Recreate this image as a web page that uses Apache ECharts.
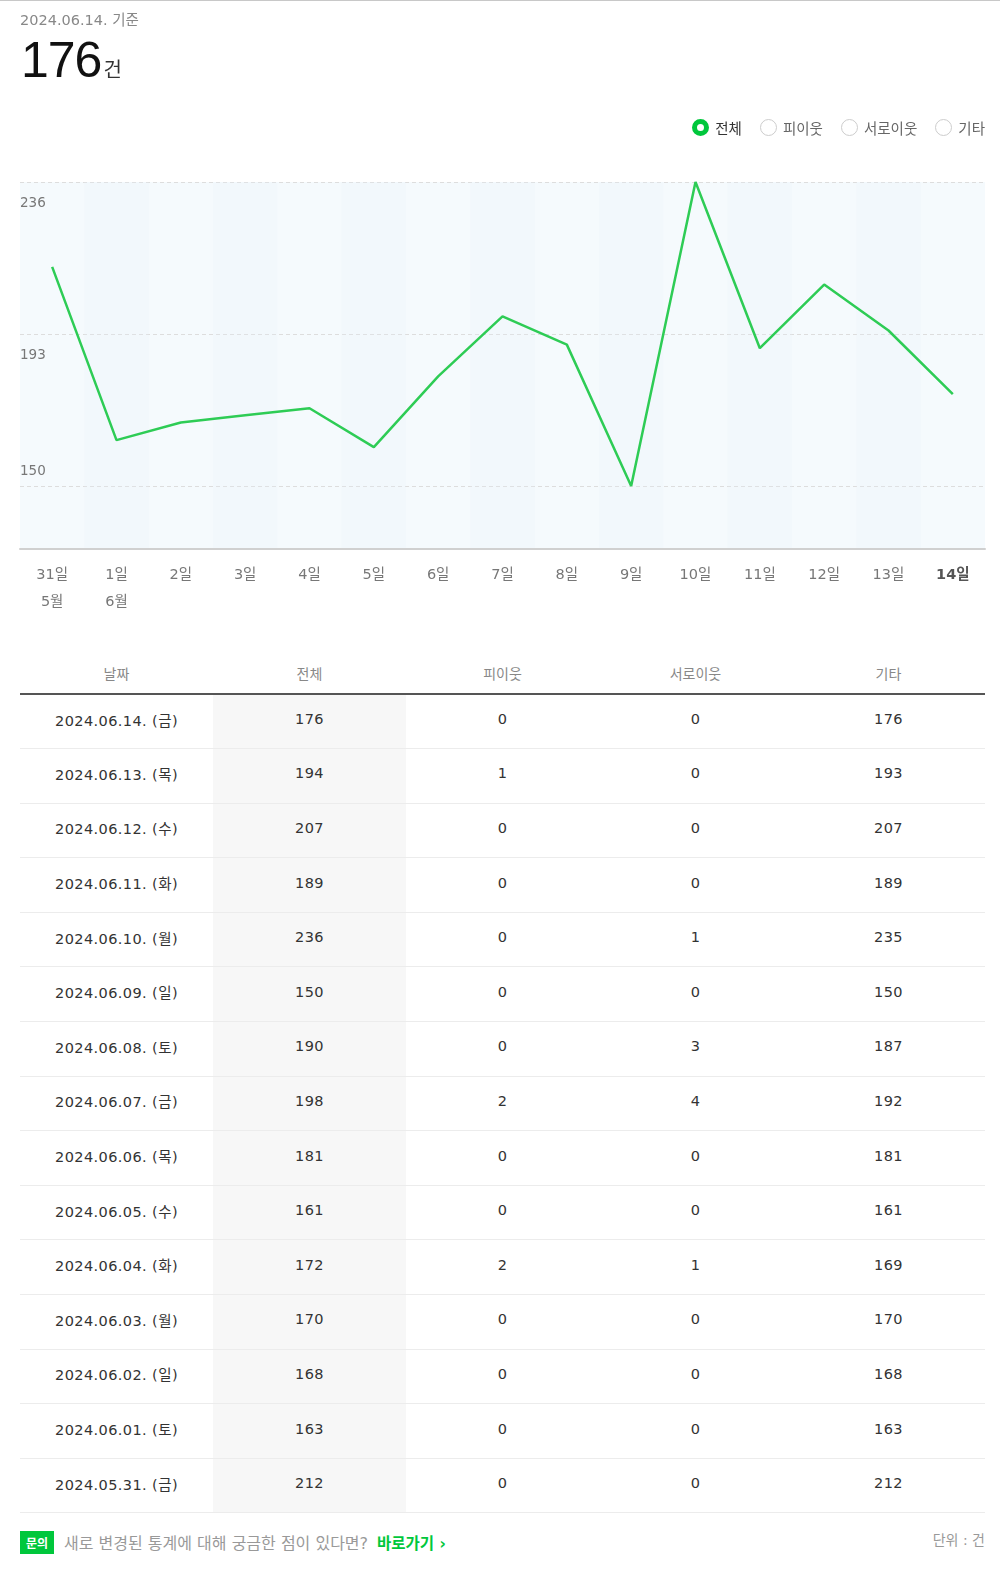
<!DOCTYPE html>
<html>
<head>
<meta charset="utf-8">
<script src="https://cdn.jsdelivr.net/npm/echarts@6/dist/echarts.min.js"></script>
<style>
  html, body { margin: 0; padding: 0; background: #fff; overflow: hidden; }
  body { width: 1000px; height: 1572px; position: relative;
         font-family: "DejaVu Sans", "Noto Sans CJK KR", sans-serif; color: #333; border-top: 1px solid #c8c8c8; box-sizing: border-box; }
  #asof { position: absolute; left: 20px; top: 7px; font-size: 14.5px; color: #888; letter-spacing: 0; }
  #big { position: absolute; left: 21px; top: 30px; font-size: 50px; color: #111; font-family: "Liberation Sans", Arial, sans-serif; letter-spacing: -1px; }
  #big span { font-size: 20px; color: #333; font-family: "Noto Sans CJK KR", sans-serif; margin-left: 2px; }
  #legend { position: absolute; right: 15px; top: 116px; display: flex; gap: 18px; font-size: 14.5px; color: #666; font-family: "Noto Sans CJK KR", sans-serif; }
  #legend .it { display: flex; align-items: center; gap: 6px; }
  #legend .r { width: 17px; height: 17px; border-radius: 50%; border: 1px solid #ccc; box-sizing: border-box; background: #fff; }
  #legend .r.on { border: 5px solid #00c73c; background: #fff; }
  #chart { position: absolute; left: 0; top: 0; width: 1000px; height: 620px; }
  table { position: absolute; left: 20px; top: 654px; width: 965px; border-collapse: collapse; table-layout: fixed; }
  th { font-weight: normal; color: #888; font-size: 14px; height: 36px; padding: 0 0 2px 0; border-bottom: 2px solid #555; font-family: "Noto Sans CJK KR", sans-serif; }
  td { text-align: center; font-size: 14.5px; letter-spacing: 0.4px; color: #333; height: 54.6px; border-bottom: 1px solid #ececec; padding: 0 0 5px 0; box-sizing: border-box; }
  td.tot { background: #f7f7f7; }
  #foot { position: absolute; left: 20px; top: 1529px; display: flex; align-items: center; font-size: 16px; color: #999; }
  #foot .badge { background: #00c73c; color: #fff; font-weight: bold; font-size: 12px; padding: 3px 6px; margin-right: 10px; font-family: "Noto Sans CJK KR", sans-serif; }
  #foot .go { color: #00c73c; font-weight: bold; margin-left: 9px; font-size: 15.5px; }
  #unit { position: absolute; right: 15px; top: 1528px; font-size: 14px; color: #999; }
</style>
</head>
<body>
<div id="chart"></div>
<div id="asof">2024.06.14. 기준</div>
<div id="big">176<span>건</span></div>
<div id="legend">
  <div class="it"><div class="r on"></div><span style="color:#333">전체</span></div>
  <div class="it"><div class="r"></div><span>피이웃</span></div>
  <div class="it"><div class="r"></div><span>서로이웃</span></div>
  <div class="it"><div class="r"></div><span>기타</span></div>
</div>
<table id="tbl"></table>
<div id="foot"><span class="badge">문의</span>새로 변경된 통계에 대해 궁금한 점이 있다면?<span class="go">바로가기 ›</span></div>
<div id="unit">단위 : 건</div>
<script>
// chronological data (2024.05.31 - 2024.06.14)
const dates    = ['2024.05.31.','2024.06.01.','2024.06.02.','2024.06.03.','2024.06.04.','2024.06.05.','2024.06.06.','2024.06.07.','2024.06.08.','2024.06.09.','2024.06.10.','2024.06.11.','2024.06.12.','2024.06.13.','2024.06.14.'];
const weekdays = ['금','토','일','월','화','수','목','금','토','일','월','화','수','목','금'];
const dayLabels = ['31일','1일','2일','3일','4일','5일','6일','7일','8일','9일','10일','11일','12일','13일','14일'];
const monthLabels = {0: '5월', 1: '6월'};
const totalVals  = [212,163,168,170,172,161,181,198,190,150,236,189,207,194,176];
const neighborVals = [0,0,0,0,2,0,0,2,0,0,0,0,0,1,0];
const mutualVals   = [0,0,0,0,1,0,0,4,3,0,1,0,0,0,0];
const otherVals    = [212,163,168,170,169,161,181,192,187,150,235,189,207,193,176];
const yTicks = [150,193,236];
const headers = ['날짜','전체','피이웃','서로이웃','기타'];

// table (newest first)
const tbl = document.getElementById('tbl');
let html = '<tr>' + headers.map(h => '<th>' + h + '</th>').join('') + '</tr>';
for (let i = dates.length - 1; i >= 0; i--) {
  html += '<tr><td>' + dates[i] + ' (' + weekdays[i] + ')</td><td class="tot">' + totalVals[i] +
          '</td><td>' + neighborVals[i] + '</td><td>' + mutualVals[i] + '</td><td>' + otherVals[i] + '</td></tr>';
}
tbl.innerHTML = html;

const FONT = '"DejaVu Sans", "Noto Sans CJK KR", sans-serif';
const chart = echarts.init(document.getElementById('chart'));
chart.setOption({
  animation: false,
  textStyle: { fontFamily: FONT },
  grid: { left: 20, right: 15, top: 181, bottom: 72, backgroundColor: '#f5fafd', show: true, borderWidth: 0 },
  xAxis: {
    type: 'category',
    data: dayLabels,
    boundaryGap: true,
    axisLine: { lineStyle: { color: '#d0d0d0', width: 2 } },
    axisTick: { show: false },
    splitArea: { show: true, areaStyle: { color: ['rgba(255,255,255,0)', 'rgba(232,242,249,0.22)'] } },
    axisLabel: {
      interval: 0,
      margin: 13, color: '#777', fontSize: 14.5, lineHeight: 27, fontFamily: FONT,
      formatter: (v, i) => {
        const last = i === dayLabels.length - 1;
        let s = last ? '{b|' + v + '}' : v;
        if (monthLabels[i] !== undefined) s += '\n' + monthLabels[i];
        return s;
      },
      rich: { b: { fontWeight: 'bold', color: '#555', fontSize: 14.5, fontFamily: FONT } }
    }
  },
  yAxis: {
    type: 'value',
    min: 132.2, max: 236,
    axisLine: { show: false },
    axisTick: { show: false, customValues: yTicks },
    splitLine: { show: true, lineStyle: { color: '#dddddd', type: [4, 3], width: 1 } },
    axisLabel: {
      inside: true, margin: 0, color: '#777', fontSize: 13.5, fontFamily: FONT,
      customValues: yTicks,
      formatter: v => v === 150 ? '{up|' + v + '}' : '{dn|' + v + '}',
      rich: { up: { padding: [0, 0, 30, 0], fontSize: 13.5, color: '#777', fontFamily: FONT }, dn: { padding: [42, 0, 0, 0], fontSize: 13.5, color: '#777', fontFamily: FONT } }
    }
  },
  series: [{
    type: 'line',
    data: totalVals,
    symbol: 'none',
    lineStyle: { color: '#2ecc55', width: 2.5 },
    z: 5
  }]
});
</script>
</body>
</html>
